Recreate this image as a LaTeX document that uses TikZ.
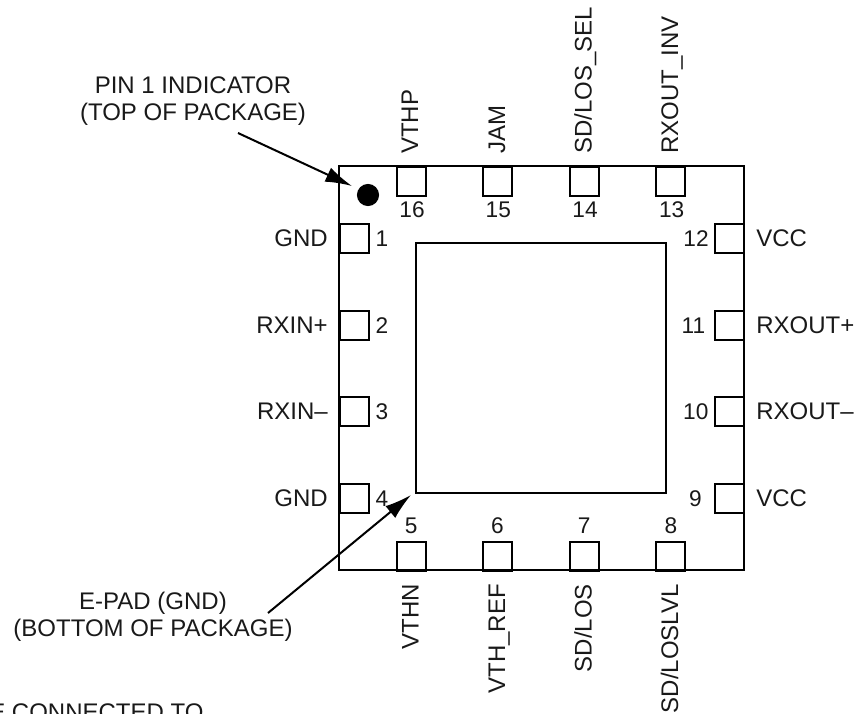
\documentclass[tikz,border=0pt]{standalone}
\usepackage{fontspec}
\setmainfont{Liberation Sans}
\usetikzlibrary{arrows.meta}
\tikzset{
 lbl/.style={inner sep=0pt,font=\fontsize{18}{20.5}\selectfont,text=black!90},
 pad/.style={draw,line width=1.5pt,minimum width=21.75pt,minimum height=21.75pt,inner sep=0pt,outer sep=0pt},
 pinno/.style={inner sep=0pt,font=\fontsize{17}{20}\selectfont,text=black!90,text height=12pt,text depth=0pt},
 ldr/.style={line width=1.5pt,-{Latex[length=20pt,width=11.5pt]}}
}
\begin{document}
\begin{tikzpicture}[x=0.75pt,y=-0.75pt]
\useasboundingbox (0,0) rectangle (857,714);
\clip (0,0) rectangle (857,714);
\node[draw,line width=1.5pt,minimum width=303.2pt,minimum height=303pt,inner sep=0pt,outer sep=0pt] (pkg) at (541.5,368) {};
\node[draw,line width=1.5pt,minimum width=187.9pt,minimum height=187.5pt,inner sep=0pt,outer sep=0pt] (epad) at (541.2,368.3) {};
\fill (368,195) circle[radius=8.3pt] coordinate (dot);
% top pads
\foreach \n/\x/\b/\t in {16/411.2/418/VTHP,15/497.5/505/JAM,14/584.2/591.5/SD\slash LOS\_SEL,13/670.8/678/RXOUT\_INV}{
 \node[pad] (p\n) at (\x,181) {};
 \node[pinno] (n\n) at (\x+0.8,209.5) {\n};
 \node[lbl,rotate=90,anchor=base west] (t\n) at (\b,154) {\t};
}
% bottom pads
\foreach \n/\x/\b/\t in {5/411.2/418.5/VTHN,6/497.5/505/VTH\_REF,7/584.2/591.5/SD\slash LOS,8/670.8/678/SD\slash LOSLVL}{
 \node[pad] (p\n) at (\x,556) {};
 \node[pinno] (n\n) at (\x,525.5) {\n};
 \node[lbl,rotate=90,anchor=base east] (t\n) at (\b,584) {\t};
}
% left pads
\foreach \n/\y/\t in {1/238.7/GND,2/325.1/RXIN+,3/411.6/RXIN--,4/498/GND}{
 \node[pad] (p\n) at (354,\y) {};
 \node[pinno] (n\n) at (382,\y) {\n};
 \node[lbl,anchor=east] (t\n) at (328,\y) {\t};
}
% right pads
\foreach \n/\y/\c/\t in {12/238.7/696/VCC,11/325.1/693.5/RXOUT+,10/411.6/695.8/RXOUT--,9/498/695.5/VCC}{
 \node[pad] (p\n) at (729,\y) {};
 \node[pinno] (n\n) at (\c,\y) {\n};
 \node[lbl,anchor=west] (t\n) at (756,\y) {\t};
}
\node[lbl,align=center] (pin1) at (193,101) {PIN 1 INDICATOR\\(TOP OF PACKAGE)};
\node[lbl,align=center] (epadl) at (153,617) {E-PAD (GND)\\(BOTTOM OF PACKAGE)};
\node[lbl,anchor=west] (cut) at (-11,712) {E CONNECTED TO};
\coordinate (a1s) at (238,133);
\coordinate (a1e) at (352,186);
\coordinate (a2s) at (268,613);
\coordinate (a2e) at (411,495);
\draw[ldr] (a1s) -- (a1e);
\draw[ldr] (a2s) -- (a2e);
\end{tikzpicture}
\end{document}
